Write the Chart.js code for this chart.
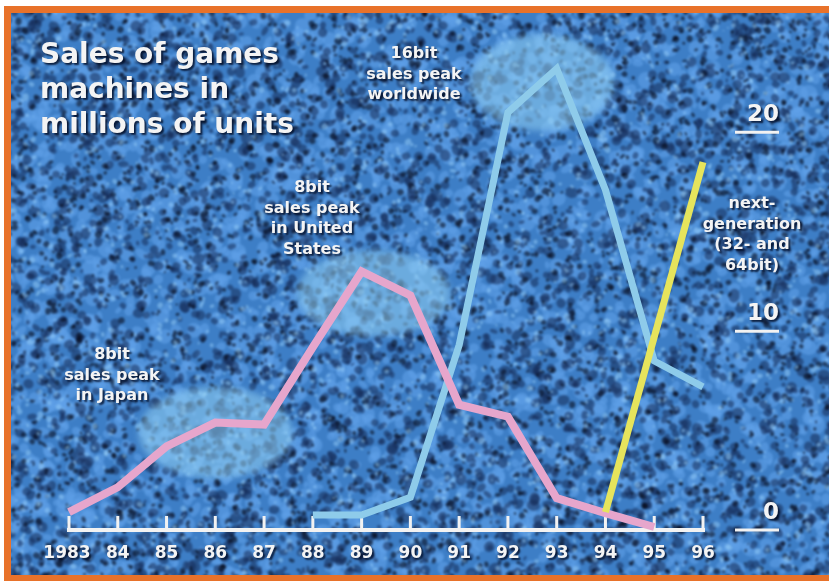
<!DOCTYPE html>
<html>
<head>
<meta charset="utf-8">
<script src="https://cdn.jsdelivr.net/npm/chart.js@4.4.0/dist/chart.umd.min.js"></script>
<style>
  html, body { margin: 0; padding: 0; background: #ffffff; overflow: hidden; }
  canvas { display: block; }
</style>
</head>
<body>
<canvas id="salesChart" width="829" height="581"></canvas>
<script>
// Datos (millones de unidades)
const years = ['1983', '84', '85', '86', '87', '88', '89', '90', '91', '92', '93', '94', '95', '96'];
const eightBit = [0.9, 2.15, 4.2, 5.4, 5.3, 9.2, 13.0, 11.8, 6.3, 5.7, 1.6, 0.85, 0.15, null];
const sixteenBit = [null, null, null, null, null, 0.75, 0.75, 1.65, 9.3, 21.0, 23.2, 17.1, 8.5, 7.2];
const nextGen = [null, null, null, null, null, null, null, null, null, null, null, 0.9, 9.7, 18.5];
const yTicks = [0, 10, 20];

const titleLines = ['Sales of games', 'machines in', 'millions of units'];
const notes = [
  { lines: ['8bit', 'sales peak', 'in Japan'], x: 112, y: 355 },
  { lines: ['8bit', 'sales peak', 'in United', 'States'], x: 312, y: 188 },
  { lines: ['16bit', 'sales peak', 'worldwide'], x: 414, y: 54 },
  { lines: ['next-', 'generation', '(32- and', '64bit)'], x: 752, y: 204 }
];
// Manchas claras: centro en coordenadas de datos (índice de año, valor)
const glows = [
  { i: 3.0, v: 4.9, rx: 77, ry: 46 },
  { i: 6.25, v: 11.9, rx: 77, ry: 43 },
  { i: 9.7, v: 22.5, rx: 72, ry: 48 }
];

// Textura azul del fondo (generador determinista)
let seed = 20240611;
function rnd() {
  seed = (seed * 1664525 + 1013904223) >>> 0;
  return seed / 4294967296;
}
const texture = document.createElement('canvas');
texture.width = 869;
texture.height = 621;
(function makeTexture() {
  const t = texture.getContext('2d');
  t.fillStyle = '#3d7ec6';
  t.fillRect(0, 0, 869, 621);
  const layers = [
    { n: 4000, color: 'rgba(95,160,232,0.6)', rmin: 3, rmax: 8 },
    { n: 4500, color: 'rgba(22,44,88,0.55)', rmin: 2, rmax: 5.5 },
    { n: 4000, color: 'rgba(8,14,30,0.6)', rmin: 1.3, rmax: 3.2 },
    { n: 2500, color: 'rgba(150,205,250,0.5)', rmin: 1, rmax: 3 }
  ];
  layers.forEach(function(l) {
    t.fillStyle = l.color;
    for (let k = 0; k < l.n; k++) {
      const x = rnd() * 869, y = rnd() * 621;
      const rx = l.rmin + rnd() * (l.rmax - l.rmin);
      const ry = rx * (0.5 + rnd() * 0.8);
      t.beginPath();
      t.ellipse(x, y, rx, ry, rnd() * Math.PI, 0, Math.PI * 2);
      t.fill();
    }
  });
})();

function shadowText(ctx, text, x, y) {
  ctx.save();
  ctx.shadowColor = 'rgba(0,10,35,0.85)';
  ctx.shadowOffsetX = 2;
  ctx.shadowOffsetY = 2;
  ctx.shadowBlur = 2;
  ctx.fillText(text, x, y);
  ctx.restore();
}

const backgroundPlugin = {
  id: 'background',
  beforeDraw(chart) {
    const ctx = chart.ctx;
    ctx.save();
    ctx.fillStyle = '#ffffff';
    ctx.fillRect(0, 0, 829, 581);
    ctx.save();
    ctx.beginPath();
    ctx.rect(11, 13, 818, 562);
    ctx.clip();
    ctx.filter = 'blur(0.9px)';
    ctx.drawImage(texture, -20, -20);
    ctx.restore();
    // marco naranja: arriba, izquierda y abajo
    ctx.fillStyle = '#e8722a';
    ctx.fillRect(4, 6, 825, 7);
    ctx.fillRect(4, 6, 7, 575);
    ctx.fillRect(4, 575, 825, 6);
    ctx.restore();
  }
};

const axisPlugin = {
  id: 'customAxes',
  beforeDatasetsDraw(chart) {
    const ctx = chart.ctx;
    const xs = chart.scales.x, ys = chart.scales.y;
    ctx.save();
    // manchas claras
    ctx.filter = 'blur(3px)';
    ctx.fillStyle = 'rgba(145,208,242,0.55)';
    glows.forEach(function(g) {
      ctx.beginPath();
      ctx.ellipse(xs.getPixelForValue(g.i), ys.getPixelForValue(g.v), g.rx, g.ry, 0, 0, Math.PI * 2);
      ctx.fill();
    });
    ctx.filter = 'none';
    // eje x
    const y0 = ys.getPixelForValue(0);
    ctx.strokeStyle = '#f2f2f2';
    ctx.lineWidth = 4;
    ctx.beginPath();
    ctx.moveTo(xs.getPixelForValue(0) - 2, y0);
    ctx.lineTo(xs.getPixelForValue(years.length - 1) + 2, y0);
    ctx.stroke();
    ctx.lineWidth = 3;
    years.forEach(function(label, i) {
      const px = xs.getPixelForValue(i);
      ctx.beginPath();
      ctx.moveTo(px, y0);
      ctx.lineTo(px, y0 - 14);
      ctx.stroke();
    });
    // eje y (derecha)
    yTicks.forEach(function(v) {
      const py = ys.getPixelForValue(v);
      ctx.beginPath();
      ctx.moveTo(735, py);
      ctx.lineTo(779, py);
      ctx.stroke();
    });
    ctx.restore();
  },
  afterDatasetsDraw(chart) {
    const ctx = chart.ctx;
    const xs = chart.scales.x, ys = chart.scales.y;
    ctx.save();
    ctx.fillStyle = '#f4f4f4';
    ctx.textBaseline = 'middle';
    ctx.textAlign = 'center';
    ctx.font = 'bold 17px "DejaVu Sans"';
    years.forEach(function(label, i) {
      shadowText(ctx, label, xs.getPixelForValue(i) - (i === 0 ? 2 : 0), 554);
    });
    ctx.textAlign = 'right';
    ctx.textBaseline = 'alphabetic';
    ctx.font = 'bold 23px "DejaVu Sans"';
    yTicks.forEach(function(v) {
      shadowText(ctx, String(v), 779, ys.getPixelForValue(v) - 11);
    });
    // notas
    ctx.textAlign = 'center';
    ctx.textBaseline = 'middle';
    ctx.font = 'bold 16px "DejaVu Sans"';
    notes.forEach(function(n) {
      n.lines.forEach(function(line, k) {
        shadowText(ctx, line, n.x, n.y + k * 20.5);
      });
    });
    // título
    ctx.textAlign = 'left';
    ctx.textBaseline = 'alphabetic';
    ctx.font = 'bold 28px "DejaVu Sans"';
    titleLines.forEach(function(line, k) {
      shadowText(ctx, line, 40, 63 + k * 35);
    });
    ctx.restore();
  }
};

const ctx = document.getElementById('salesChart').getContext('2d');
new Chart(ctx, {
  type: 'line',
  data: {
    labels: years,
    datasets: [
      { label: 'next-generation', data: nextGen, borderColor: '#e6e45c', borderWidth: 7, order: 0 },
      { label: '8bit', data: eightBit, borderColor: '#e6a6cc', borderWidth: 8, order: 1 },
      { label: '16bit', data: sixteenBit, borderColor: '#8ecbea', borderWidth: 7, order: 2 }
    ]
  },
  options: {
    responsive: false,
    animation: false,
    devicePixelRatio: 1,
    layout: { padding: { left: 69, right: 126, top: 13, bottom: 51 } },
    elements: {
      point: { radius: 0, hoverRadius: 0 },
      line: { tension: 0, borderJoinStyle: 'miter', fill: false }
    },
    datasets: { line: { clip: false, spanGaps: false } },
    plugins: { legend: { display: false }, tooltip: { enabled: false } },
    scales: {
      x: { display: false, offset: false },
      y: { display: false, min: 0, max: 26 }
    }
  },
  plugins: [backgroundPlugin, axisPlugin]
});
</script>
</body>
</html>
